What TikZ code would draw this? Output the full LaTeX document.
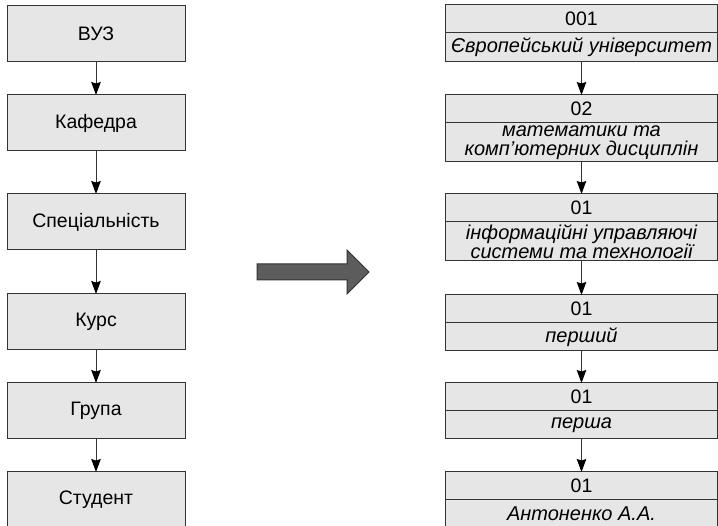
\documentclass[tikz,border=0pt]{standalone}
\usepackage{fontspec}
\setmainfont{Liberation Sans}
\usetikzlibrary{arrows.meta}
\definecolor{boxgray}{HTML}{E6E6E6}
\definecolor{linegray}{HTML}{333333}
\definecolor{arrowgray}{HTML}{5C5C5C}

\begin{document}
\begin{tikzpicture}[x=1pt,y=-1pt]
		\useasboundingbox (0,0) rectangle (718,526);

		% left column
		\begin{scope}[every node/.style={rectangle,draw=linegray,fill=boxgray,line width=1pt,
					  anchor=north,inner sep=0pt,outer sep=0pt,
					  minimum width=178pt,minimum height=56pt,font=\fontsize{19.5}{21}\selectfont}]
			\node (vuz) at (96,6) {ВУЗ};
			\node (kafedra) at (96,95) {Кафедра};
			\node (spec) at (96,194) {Спеціальність};
			\node (kurs) at (96,294) {Курс};
			\node (grupa) at (96,383) {Група};
			\node (student) at (96,472) {Студент};
		\end{scope}

		% right column
		\begin{scope}[every node/.style={rectangle,draw=linegray,fill=boxgray,line width=1pt,
					  anchor=north,inner sep=0pt,outer sep=0pt,align=center,
					  minimum width=272pt,minimum height=28pt,font=\fontsize{19.5}{21}\selectfont},
					  namebox/.style={minimum height=#1,font=\fontsize{20}{19}\selectfont\itshape}]
			\node (c1) at (581.5,5) {001};
			\node (n1) at (c1.south) [namebox=29pt] {Європейський університет};

			\node (c2) at (581.5,95) {02};
			\node (n2) at (c2.south) [namebox=39pt] {математики та\\комп’ютерних дисциплін};

			\node (c3) at (581.5,194) {01};
			\node (n3) at (c3.south) [namebox=39pt] {інформаційні управляючі\\системи та технології};

			\node (c4) at (581.5,295) {01};
			\node (n4) at (c4.south) [namebox=28pt] {перший};

			\node (c5) at (581.5,383) {01};
			\node (n5) at (c5.south) [namebox=28pt] {перша};

			\node (c6) at (581.5,472) {01};
			\node (n6) at (c6.south) [namebox=28pt] {Антоненко А.А.};
		\end{scope}

		% big arrow
		\filldraw [fill=arrowgray,draw=linegray,line width=1pt] (257,264) -- (347,264) -- (347,250)
			-- (369,272) -- (347,294) -- (347,280) -- (257,280) -- cycle;

		\begin{scope}[>={Stealth[length=13pt,width=9.5pt,inset=1.5pt,black]},
					  every edge/.style={draw=linegray,line width=1pt}]
			\path [->] (vuz) edge (kafedra);
			\path [->] (kafedra) edge (spec);
			\path [->] (spec) edge (kurs);
			\path [->] (kurs) edge (grupa);
			\path [->] (grupa) edge (student);

			\path [->] (n1) edge (c2);
			\path [->] (n2) edge (c3);
			\path [->] (n3) edge (c4);
			\path [->] (n4) edge (c5);
			\path [->] (n5) edge (c6);
		\end{scope}
\end{tikzpicture}
\end{document}
